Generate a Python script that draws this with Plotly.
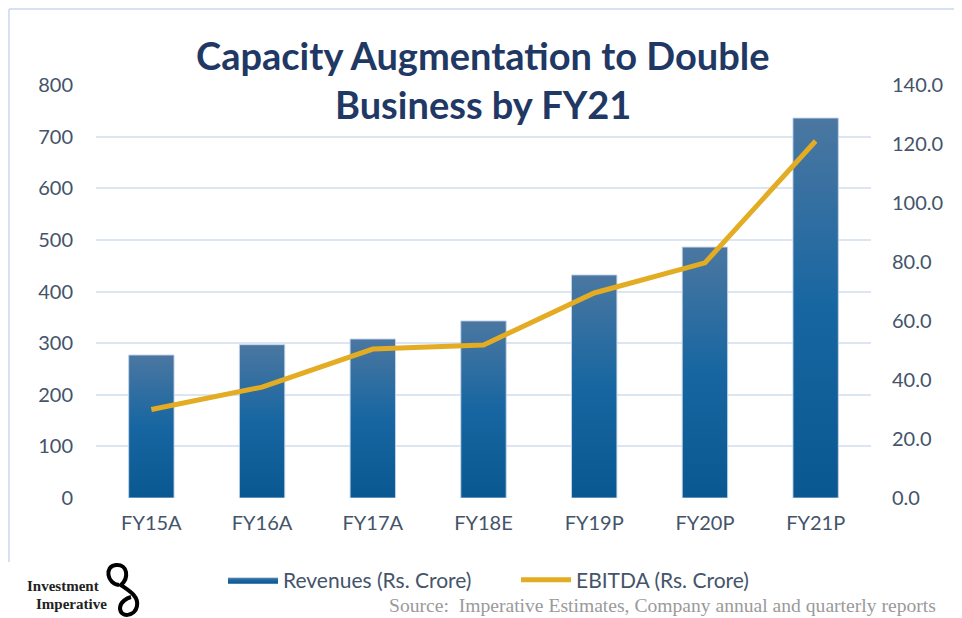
import plotly.graph_objects as go

# ---------------- data ----------------
categories = ["FY15A", "FY16A", "FY17A", "FY18E", "FY19P", "FY20P", "FY21P"]
revenues = [277, 297, 308, 343, 432, 486, 736]          # Rs. Crore (left axis)
ebitda = [30.0, 37.6, 50.5, 51.9, 69.5, 79.7, 121.0]    # Rs. Crore (right axis)
rev_ticks = [0, 100, 200, 300, 400, 500, 600, 700, 800]
ebitda_ticks = [0, 20, 40, 60, 80, 100, 120, 140]

title_lines = ["Capacity Augmentation to Double", "Business by FY21"]
rev_name = "Revenues (Rs. Crore)"
ebitda_name = "EBITDA (Rs. Crore)"
source_text = "Source:  Imperative Estimates, Company annual and quarterly reports"

# ---------------- layout geometry (page pixels) ----------------
W, H = 962, 618
OFF = 8                      # default page body margin
L, R, T, B = 96, 871, 85, 498


def px(x):
    return (x - L) / (R - L)


def py(y):
    return (B - y) / (B - T)


TXT = "#44546A"
FONT = "Lato"

fig = go.Figure()

idx = list(range(len(categories)))
bw = 0.41
for i, v in enumerate(revenues):
    fig.add_trace(go.Scatter(
        x=[i - bw / 2, i + bw / 2, i + bw / 2, i - bw / 2, i - bw / 2],
        y=[0, 0, v, v, 0],
        mode="lines",
        fill="toself",
        fillgradient=dict(type="vertical",
                          colorscale=[[0, "#0A5891"], [0.5, "#1766A1"], [1, "#4B77A1"]]),
        line=dict(color="rgba(196,212,234,0.9)", width=1),
        name=rev_name,
        legendgroup="rev",
        showlegend=(i == 0),
        hoverinfo="text",
        text=f"{categories[i]}: {v}",
    ))

fig.add_trace(go.Scatter(
    x=idx, y=ebitda, yaxis="y2", mode="lines",
    line=dict(color="#E3AC22", width=5),
    name=ebitda_name,
))

fig.update_layout(
    width=W - OFF, height=H - OFF,
    margin=dict(l=L - OFF, r=W - R, t=T - OFF, b=H - B),
    paper_bgcolor="white", plot_bgcolor="white",
    font=dict(family=FONT, color=TXT, size=20),
    showlegend=True,
    legend=dict(orientation="h", x=px(223), xanchor="left", y=py(580), yanchor="middle",
                font=dict(family=FONT, size=21, color=TXT), itemwidth=50,
                entrywidth=228, entrywidthmode="pixels",
                traceorder="normal", bgcolor="rgba(0,0,0,0)"),
    xaxis=dict(range=[-0.5, 6.5], tickvals=idx, ticktext=categories, showgrid=False,
               zeroline=False, showline=False, ticks="", ticklabelstandoff=11,
               tickfont=dict(family=FONT, size=20, color=TXT)),
    yaxis=dict(range=[0, 800], tickvals=rev_ticks, showgrid=True, gridcolor="#DCE6F2",
               gridwidth=2, zeroline=False, showline=False, ticks="", ticklabelstandoff=22,
               tickfont=dict(family=FONT, size=20, color=TXT)),
    yaxis2=dict(range=[0, 140], tickvals=ebitda_ticks, tickformat=".1f", overlaying="y",
                side="right", showgrid=False, zeroline=False, showline=False, ticks="",
                ticklabelstandoff=20, tickfont=dict(family=FONT, size=20, color=TXT)),
)

# title (two lines, positioned separately)
for line, yc in zip(title_lines, [55, 104]):
    fig.add_annotation(text=line, xref="paper", yref="paper", x=px(483), y=py(yc),
                       xanchor="center", yanchor="middle", showarrow=False,
                       font=dict(family=FONT, size=38, color="#1F3864", weight="bold"))

# source note
fig.add_annotation(text=source_text, xref="paper", yref="paper", x=px(938), y=py(605),
                   xanchor="right", yanchor="middle", showarrow=False,
                   font=dict(family="Liberation Serif", size=19.6, color="#9A9A9A"))

# logo text
fig.add_annotation(text="<b>Investment</b>", xref="paper", yref="paper", x=px(101), y=py(586),
                   xanchor="right", yanchor="middle", showarrow=False,
                   font=dict(family="Liberation Serif", size=15, color="#222222"))
fig.add_annotation(text="<b>Imperative</b>", xref="paper", yref="paper", x=px(109), y=py(604),
                   xanchor="right", yanchor="middle", showarrow=False,
                   font=dict(family="Liberation Serif", size=15, color="#222222"))

# logo glyph
glyph_pts = [
    ("M", [(119, 585)]),
    ("C", [(107, 584), (104, 566), (116, 565)]),
    ("C", [(128, 564), (129, 578), (121, 585)]),
    ("C", [(128, 590), (139, 596), (137, 606)]),
    ("C", [(135, 617), (120, 618), (120, 608)]),
    ("C", [(120, 602), (127, 598), (131, 597)]),
]
path = " ".join(cmd + " " + " ".join(f"{px(a):.5f},{py(b):.5f}" for a, b in pts)
                for cmd, pts in glyph_pts)
fig.add_shape(type="path", path=path, xref="paper", yref="paper",
              line=dict(color="black", width=4))

# chart frame border
BC = "#D5E2F3"
for x0, y0, x1, y1 in [(9, 9, 957, 9), (9, 9, 9, 562), (957, 9, 957, 640)]:
    fig.add_shape(type="line", xref="paper", yref="paper",
                  x0=px(x0), y0=py(y0), x1=px(x1), y1=py(y1),
                  line=dict(color=BC, width=2))

fig.write_html("out.html")
